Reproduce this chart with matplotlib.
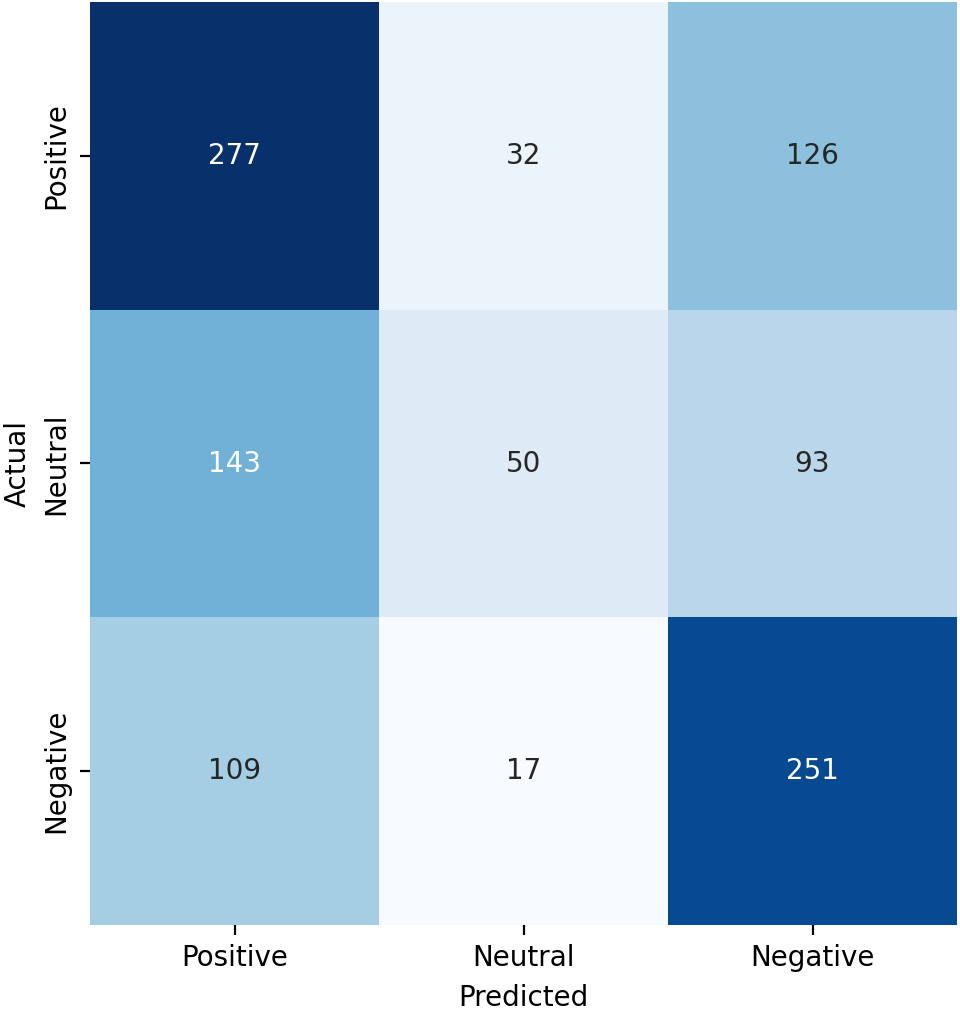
import matplotlib
matplotlib.use("Agg")
import matplotlib.pyplot as plt
import seaborn as sns
import numpy as np

labels = ["Positive", "Neutral", "Negative"]
row_positive = [277, 32, 126]
row_neutral = [143, 50, 93]
row_negative = [109, 17, 251]

cm = np.array([row_positive, row_neutral, row_negative])

fig = plt.figure(figsize=(4.8, 5.065), dpi=200)
ax = fig.add_axes([90/960, 1 - 925/1013, (957-90)/960, (925-2)/1013])
sns.heatmap(cm, annot=True, fmt="d", cmap="Blues", cbar=False,
            xticklabels=labels, yticklabels=labels, ax=ax)
ax.set_xlabel("Predicted")
ax.set_ylabel("Actual")
fig.savefig("out.png", dpi=200)
